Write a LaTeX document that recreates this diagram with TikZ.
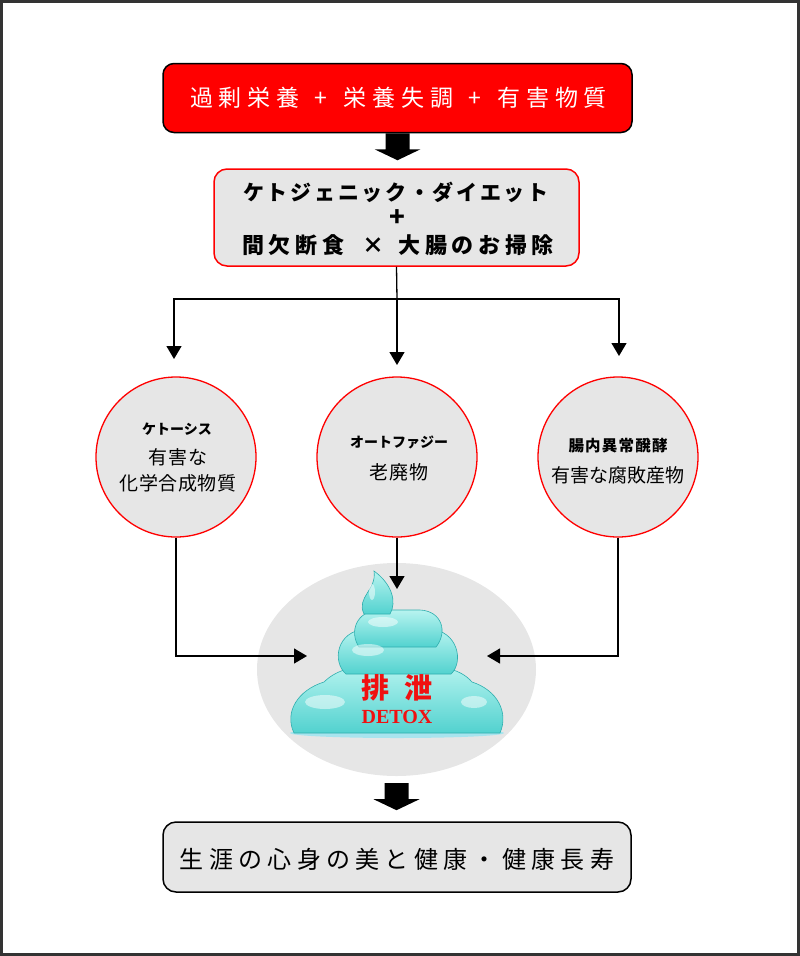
\documentclass[tikz,border=0pt]{standalone}
\usepackage{fontspec}
\setmainfont{Liberation Serif}
\newfontfamily\jp{Noto Sans CJK JP}
\usetikzlibrary{arrows.meta,shapes.geometric}
\definecolor{lg}{HTML}{E6E6E6}
\definecolor{framec}{HTML}{333333}
\definecolor{cyL}{HTML}{B8F4F0}
\definecolor{cyM}{HTML}{52D2CF}
\definecolor{cyD}{HTML}{2FAEAE}
\definecolor{puddle}{HTML}{A8E4EE}
\definecolor{detox}{HTML}{F01010}
\makeatletter
\newcommand\spchars[2]{\def\sp@gap{\hspace{#1}}\let\sp@sep\relax
  \@tfor\sp@c:=#2\do{\sp@sep\sp@c\let\sp@sep\sp@gap}}
\makeatother
\begin{document}
\begin{tikzpicture}[x=1pt,y=-1pt,
  redbox/.style={draw=black,line width=1.5pt,fill=red,rounded corners=11pt,minimum width=469pt,minimum height=69pt,inner sep=0pt},
  midbox/.style={draw=red,line width=1.5pt,fill=lg,rounded corners=13pt,minimum width=365pt,minimum height=97pt,inner sep=0pt},
  endbox/.style={draw=black,line width=1.5pt,fill=lg,rounded corners=13pt,minimum width=468pt,minimum height=70pt,inner sep=0pt},
  circ/.style={circle,draw=red,line width=1.3pt,fill=lg,minimum size=160pt,inner sep=0pt},
  txt/.style={inner sep=0pt},
  conn/.style={line width=1.3pt,-{Triangle[width=15pt,length=13pt]}},
  plainline/.style={line width=1.3pt},
  blockarr/.style={fill=black},
  tier/.style={top color=cyL,bottom color=cyM,draw=cyD,line width=0.6pt},
  gloss/.style={white,opacity=0.5},
]
\useasboundingbox (0,0) rectangle (800,956);
\draw[framec,line width=3pt] (1.5,1.5) rectangle (798.5,954.5);

% top box
\node[redbox] (top) at (397.5,98) {};
\node[txt,text=white,font=\jp\fontsize{23}{23}\selectfont] (toptxt) at (398.5,98)
  {\spchars{5.7pt}{過剰栄養}\hspace{15pt}+\hspace{17pt}\spchars{5.7pt}{栄養失調}\hspace{15pt}+\hspace{17pt}\spchars{5.7pt}{有害物質}};

% block arrow 1
\fill[blockarr] (top.south) ++(-12,0) -- ++(24,0) -- ++(0,16) -- ++(11,0) -- ++(-23,11) -- ++(-23,-11) -- ++(11,0) -- cycle;

% method box
\node[midbox] (mid) at (396.5,217.5) {};
\node[txt,font=\jp\bfseries\fontsize{21}{21}\selectfont] (m1) at (396,192) {\spchars{2.7pt}{ケトジェニック・ダイエット}};
\node[txt,font=\jp\bfseries\fontsize{26}{26}\selectfont] (m2) at (397,218) {+};
\node[txt,font=\jp\bfseries\fontsize{22}{22}\selectfont] (m3) at (398,245) {\spchars{4.7pt}{間欠断食}\hspace{18pt}×\hspace{14pt}\spchars{4.7pt}{大腸のお掃除}};

% split
\coordinate (split) at (397,299);
\draw[plainline] (mid.south) -- (split);

% circles
\node[circ] (c1) at (176,457) {};
\node[circ] (c2) at (397,457) {};
\node[circ] (c3) at (618,457) {};

\coordinate (t1) at (174,359);
\coordinate (t2) at (397,365);
\coordinate (t3) at (619,356);
\draw[conn] (split) -| (t1);
\draw[conn] (split) -- (t2);
\draw[conn] (split) -| (t3);

% circle texts
\node[txt,font=\jp\bfseries\fontsize{14}{14}\selectfont] (c1a) at (177,429) {ケトーシス};
\node[txt,font=\jp\fontsize{19}{19}\selectfont] (c1b) at (178,457) {\spchars{0.6pt}{有害な}};
\node[txt,font=\jp\fontsize{19}{19}\selectfont] (c1c) at (178,483) {\spchars{0.6pt}{化学合成物質}};
\node[txt,font=\jp\bfseries\fontsize{14}{14}\selectfont] (c2a) at (399,442) {オートファジー};
\node[txt,font=\jp\fontsize{19}{19}\selectfont] (c2b) at (399,472) {\spchars{0.6pt}{老廃物}};
\node[txt,font=\jp\bfseries\fontsize{15.5}{15.5}\selectfont] (c3a) at (618,446) {\spchars{1.2pt}{腸内異常醗酵}};
\node[txt,font=\jp\fontsize{19}{19}\selectfont] (c3b) at (618,475) {有害な腐敗産物};

% detox ellipse
\node[ellipse,fill=lg,minimum width=279pt,minimum height=213pt,inner sep=0pt] (ell) at (396.5,669.5) {};

\coordinate (e1) at (307,656);
\coordinate (e2) at (397,589);
\coordinate (e3) at (487,656);
\draw[conn] (c1.south) |- (e1);
\draw[conn] (c2.south) -- (e2);
\draw[conn] (c3.south) |- (e3);

% poop figure
\fill[puddle] (397,733) ellipse [x radius=107, y radius=5];
\path[tier] (294,733) .. controls (284,712) and (298,690) .. (324,682)
  .. controls (338,668) and (360,664) .. (397,664)
  .. controls (438,664) and (460,668) .. (472,682)
  .. controls (497,690) and (509,712) .. (500,733) -- cycle;
\path[tier] (346,674) .. controls (332,662) and (336,631) .. (366,629) -- (430,629)
  .. controls (458,631) and (464,662) .. (451,674) -- cycle;
\path[tier] (359,647) .. controls (349,632) and (356,611) .. (379,610) -- (420,610)
  .. controls (442,611) and (448,632) .. (436,647) -- cycle;
\path[tier] (364,614) .. controls (356,597) and (377,590) .. (374,571)
  .. controls (392,584) and (397,602) .. (390,614) -- cycle;
\fill[gloss] (325,702) ellipse [x radius=20, y radius=7];
\fill[gloss] (368,650) ellipse [x radius=16, y radius=6];
\fill[gloss] (383,622) ellipse [x radius=15, y radius=5];
\fill[gloss] (474,702) ellipse [x radius=13, y radius=6];
\fill[gloss] (372,592) ellipse [x radius=3, y radius=8];

\node[txt,text=detox,font=\jp\bfseries\fontsize{28}{28}\selectfont] (dt1) at (397,688) {排\hspace{16pt}泄};
\node[txt,text=detox,font=\bfseries\fontsize{20}{20}\selectfont] (dt2) at (397,717) {DETOX};

% block arrow 2
\fill[blockarr] (ell.south) ++(-12,7) -- ++(24,0) -- ++(0,16) -- ++(11,0) -- ++(-23,11) -- ++(-23,-11) -- ++(11,0) -- cycle;

% result box
\node[endbox] (res) at (397,857) {};
\node[txt,font=\jp\fontsize{24}{24}\selectfont] (restxt) at (397,859) {\spchars{5.3pt}{生涯の心身の美と健康・健康長寿}};
\end{tikzpicture}
\end{document}
